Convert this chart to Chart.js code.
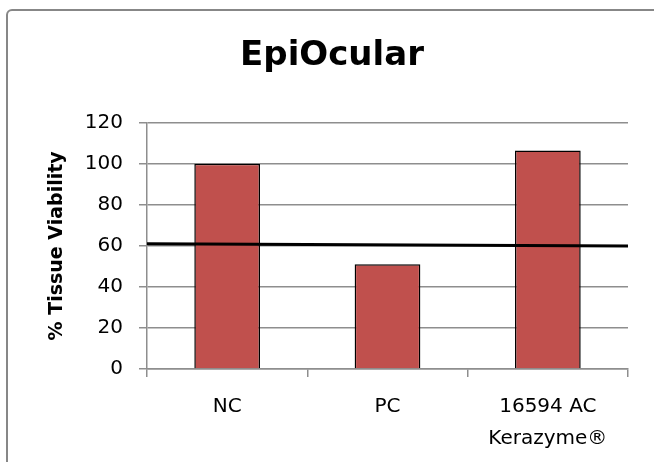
<!DOCTYPE html>
<html>
<head>
<meta charset="utf-8">
<script src="https://cdn.jsdelivr.net/npm/chart.js@4"></script>
<style>
  html, body { margin: 0; padding: 0; overflow: hidden; background: #fff; }
  #rahmen {
    position: absolute; left: 6px; top: 9px; width: 720px; height: 520px;
    border: 2px solid #878787; border-radius: 6px;
  }
  #epiOcular { position: absolute; left: 0; top: 0; }
</style>
</head>
<body>
<div id="rahmen"></div>
<canvas id="epiOcular" width="654" height="462"></canvas>
<script>
// Daten
const kategorien = ['NC', 'PC', ['16594 AC', 'Kerazyme®']];
const viabilitaet = [100, 51, 106.5];
const grenzwertStart = 61;   // Linie links
const grenzwertEnde = 60;    // Linie rechts
const yTicks = [0, 20, 40, 60, 80, 100, 120];

const schrift = 'DejaVu Sans';
const gitterFarbe = '#8e8e8e';

const ctx = document.querySelector('#epiOcular');

new Chart(ctx, {
  data: {
    labels: kategorien,
    datasets: [
      {
        type: 'line',
        label: 'Grenzwert',
        data: [{ x: 0, y: grenzwertStart }, { x: 1, y: grenzwertEnde }],
        xAxisID: 'x2',
        borderColor: '#000',
        borderWidth: 3,
        pointRadius: 0,
        order: 0,
      },
      {
        type: 'bar',
        label: '% Tissue Viability',
        data: viabilitaet,
        backgroundColor: '#C0504D',
        borderColor: '#000',
        borderWidth: 1.5,
        grouped: false,
        categoryPercentage: 1,
        barPercentage: 0.41,
        order: 1,
      }
    ]
  },
  options: {
    responsive: false,
    animation: false,
    // links mehr Abstand, damit der Titel mittig im Rahmen sitzt
    layout: { padding: { top: 30, left: 36, right: 26, bottom: 0 } },
    scales: {
      x: {
        grid: {
          drawOnChartArea: false,
          drawTicks: true,
          tickLength: 8,
          color: gitterFarbe,
          lineWidth: 1.5,
        },
        border: { color: gitterFarbe, width: 1.5 },
        ticks: {
          color: '#000',
          padding: 14,
          font: { family: schrift, size: 20, lineHeight: 1.6 },
          maxRotation: 0,
          autoSkip: false,
        },
        afterFit: function (scale) { scale.height = 93; }
      },
      x2: {
        type: 'linear',
        display: false,
        min: 0,
        max: 1,
      },
      y: {
        min: 0,
        max: 120,
        afterBuildTicks: function (scale) {
          scale.ticks = yTicks.map(v => ({ value: v }));
        },
        grid: {
          color: gitterFarbe,
          lineWidth: 1.5,
          drawTicks: true,
          tickLength: 8,
        },
        border: { color: gitterFarbe, width: 1.5 },
        ticks: {
          color: '#000',
          padding: 16,
          font: { family: schrift, size: 20 },
        },
        title: {
          display: true,
          text: '% Tissue Viability',
          color: '#000',
          font: { family: schrift, size: 19, weight: 'bold' },
          padding: { top: 10, bottom: 0 },
        },
        afterFit: function (scale) { scale.width = 111; }
      }
    },
    plugins: {
      legend: { display: false },
      tooltip: { enabled: false },
      title: {
        display: true,
        text: 'EpiOcular',
        color: '#000',
        font: { family: schrift, size: 34, weight: 'bold', lineHeight: 1.2 },
        padding: { top: 6, bottom: 46 },
      }
    }
  }
});
</script>
</body>
</html>
